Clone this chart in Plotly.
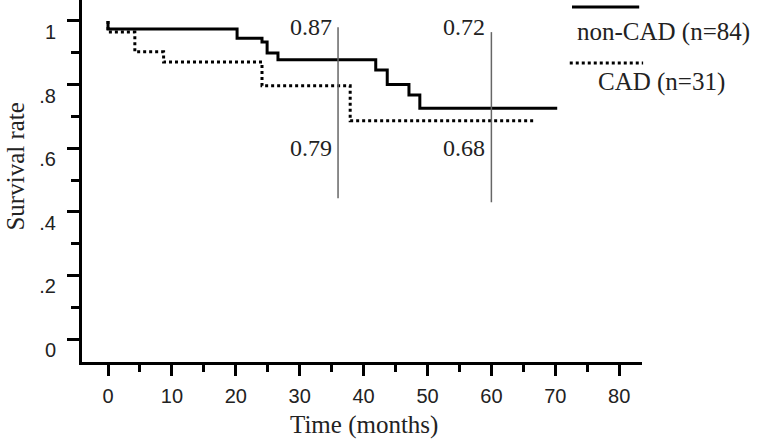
import plotly.graph_objects as go

# ---- data ----
noncad_months = [0, 0, 20.2, 24.1, 24.9, 26.6, 41.9, 43.7, 47.1, 48.8, 70.3]
noncad_surv = [1.0, 0.975, 0.946, 0.934, 0.899, 0.878, 0.846, 0.800, 0.767, 0.726, 0.726]

cad_months = [0, 0, 4.2, 8.7, 24.1, 37.9, 66.8]
cad_surv = [1.0, 0.965, 0.903, 0.871, 0.796, 0.686, 0.686]

landmark_months = [36, 60]
landmark_top = [0.98, 0.965]
landmark_bottom = [0.443, 0.43]
noncad_at_landmark = ["0.87", "0.72"]
cad_at_landmark = ["0.79", "0.68"]

x_ticks = [0, 10, 20, 30, 40, 50, 60, 70, 80]
y_ticks = [0, 0.2, 0.4, 0.6, 0.8, 1.0]
y_ticktext = ["0", ".2", ".4", ".6", ".8", "1"]

legend_names = ["non-CAD (n=84)", "CAD (n=31)"]

SERIF = "Liberation Serif, Times New Roman, serif"
SANS = "Liberation Sans, Arial, sans-serif"

fig = go.Figure()

fig.add_trace(go.Scatter(x=noncad_months, y=noncad_surv, mode="lines",
                         line=dict(shape="hv", color="black", width=3),
                         showlegend=False, cliponaxis=False))
fig.add_trace(go.Scatter(x=cad_months, y=cad_surv, mode="lines",
                         line=dict(shape="hv", color="black", width=3, dash="3px,3px"),
                         showlegend=False, cliponaxis=False))

for m, t, b in zip(landmark_months, landmark_top, landmark_bottom):
    fig.add_trace(go.Scatter(x=[m, m], y=[t, b], mode="lines",
                             line=dict(color="#666666", width=1.5),
                             showlegend=False))

TXT = dict(family=SERIF, size=25, color="#222")
VAL = dict(family=SERIF, size=24, color="#222")

annotations = []
for m, t_top, t_bot in zip(landmark_months, noncad_at_landmark, cad_at_landmark):
    annotations.append(dict(x=m, y=0.981, xref="x", yref="y", text=t_top,
                            showarrow=False, xanchor="right", yanchor="middle",
                            xshift=-4, font=VAL))
    annotations.append(dict(x=m, y=0.60, xref="x", yref="y", text=t_bot,
                            showarrow=False, xanchor="right", yanchor="middle",
                            xshift=-4, font=VAL))

# axis titles
annotations.append(dict(x=0.5027, y=-0.174, xref="paper", yref="paper",
                        text="Time (months)", showarrow=False,
                        xanchor="center", yanchor="middle", font=TXT))
annotations.append(dict(x=-0.1196, y=0.54, xref="paper", yref="paper",
                        text="Survival rate", showarrow=False, textangle=-90,
                        xanchor="center", yanchor="middle", font=TXT))

# legend texts
annotations.append(dict(x=1.039, y=0.9116, xref="paper", yref="paper",
                        text=legend_names[0], showarrow=False,
                        xanchor="center", yanchor="middle", font=TXT))
annotations.append(dict(x=1.035, y=0.7735, xref="paper", yref="paper",
                        text=legend_names[1], showarrow=False,
                        xanchor="center", yanchor="middle", font=TXT))

shapes = [
    dict(type="line", xref="paper", yref="paper", x0=0.875, x1=0.995,
         y0=0.9807, y1=0.9807, line=dict(color="black", width=3)),
    dict(type="line", xref="paper", yref="paper", x0=0.871, x1=1.002,
         y0=0.826, y1=0.826, line=dict(color="black", width=3, dash="3px,3px")),
]

fig.update_layout(
    width=764, height=439,
    margin=dict(l=82, r=122, t=0, b=77),
    paper_bgcolor="white", plot_bgcolor="white",
    showlegend=False,
    annotations=annotations,
    shapes=shapes,
    xaxis=dict(range=[-4.07, 83.57], tickmode="array", tickvals=x_ticks,
               ticks="outside", ticklen=11, tickwidth=3, tickcolor="black",
               showline=True, linewidth=3, linecolor="black",
               showgrid=False, zeroline=False,
               minor=dict(tickmode="linear", tick0=0, dtick=5, ticks="outside",
                          ticklen=7, tickwidth=3, tickcolor="black", showgrid=False),
               tickfont=dict(family=SANS, size=20, color="#222"),
               ticklabelstandoff=3),
    yaxis=dict(range=[-0.0723, 1.066], tickmode="array", tickvals=y_ticks,
               ticktext=y_ticktext,
               ticks="outside", ticklen=12, tickwidth=3, tickcolor="black",
               showline=True, linewidth=3, linecolor="black",
               showgrid=False, zeroline=False,
               minor=dict(tickmode="linear", tick0=0, dtick=0.1, ticks="outside",
                          ticklen=8, tickwidth=3, tickcolor="black", showgrid=False),
               tickfont=dict(family=SANS, size=20, color="#222"),
               ticklabelshift=11, ticklabelstandoff=7),
)

fig.write_html("out.html")
